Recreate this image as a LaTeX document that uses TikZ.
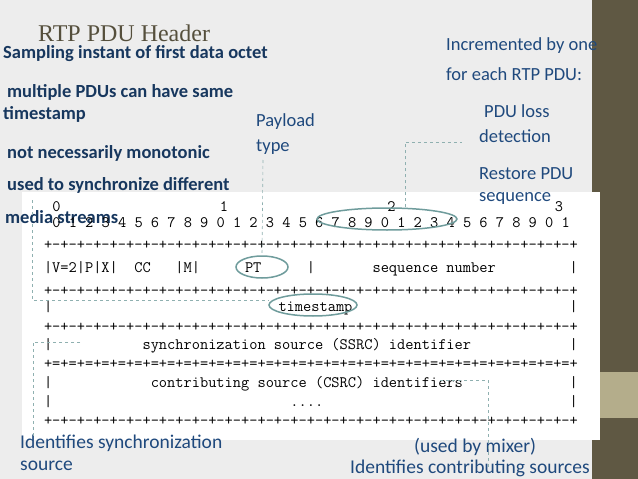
\documentclass[tikz,border=0pt]{standalone}
\usepackage{fontspec}
\setmainfont{Carlito}
\newfontfamily\titlefont{Liberation Serif}
\usetikzlibrary{shapes.geometric}
\definecolor{bgc}{HTML}{EDEDED}
\definecolor{strip}{HTML}{5F5843}
\definecolor{stripl}{HTML}{B4AD8B}
\definecolor{navy}{HTML}{17375E}
\definecolor{bluet}{HTML}{1F497D}
\definecolor{ell}{HTML}{6F9C9C}
\definecolor{dsh}{HTML}{8FB0B0}
\begin{document}
\begin{tikzpicture}[x=1pt,y=-1pt,
  bl/.style={anchor=west,inner sep=0pt,text=navy,font=\fontsize{18.5}{21}\selectfont\bfseries},
  rt/.style={anchor=west,inner sep=0pt,text=bluet,font=\fontsize{18.5}{20}\selectfont},
  rb/.style={anchor=west,inner sep=0pt,text=bluet,font=\fontsize{19.5}{20}\selectfont},
  asc/.style={anchor=base west,inner sep=0pt,font=\fontsize{15.95}{16}\selectfont\ttfamily},
  ov/.style={draw=ell,line width=1.5pt,ellipse,inner sep=0pt},
  dl/.style={draw=dsh,dashed,line width=0.6pt}]
\useasboundingbox (0,0) rectangle (638,479);
\fill[bgc] (0,0) rectangle (638,479);
\fill[strip] (592,0) rectangle (638,479);
\fill[stripl] (592,372) rectangle (638,418);
\fill[white] (22,192) rectangle (600,440);
% title and texts
\node[anchor=west,inner sep=0pt,text=strip!90!black,font=\titlefont\fontsize{24}{26}\selectfont] (title) at (38,33) {RTP PDU Header};
\node[bl] (t1) at (3,54) {Sampling instant of first data octet};
\node[bl] (t2) at (7,92) {multiple PDUs can have same};
\node[bl] (t3) at (3,114) {timestamp};
\node[bl] (t4) at (7,153) {not necessarily monotonic};
\node[bl] (t5) at (7,185) {used to synchronize different};
\node[bl] (t6) at (5,217) {media streams};
\node[rt] (pl) at (256,122) {Payload};
\node[rt] (ty) at (256,147) {type};
\node[rt] (i1) at (446,46) {Incremented by one};
\node[rt] (i2) at (446,74) {for each RTP PDU:};
\node[rt] (p1) at (484,111) {PDU loss};
\node[rt] (p2) at (479,136) {detection};
\node[rt] (r1) at (479,174) {Restore PDU};
\node[rt] (r2) at (479,198) {sequence};
\node[rb] (b1) at (20,443) {Identifies synchronization};
\node[rb] (b2) at (20,466) {source};
\node[rb] (b3) at (414,447) {(used by mixer)};
\node[rb] (b4) at (350,468) {Identifies contributing sources};
% ascii header, char i left edge at 43.8+8.375 i
\def\cx#1{43.8+8.375*#1}
\node[asc] (d0) at ({\cx{1}},211) {0};
\node[asc] (d1) at ({\cx{21}},211) {1};
\node[asc] (d2) at ({\cx{41}},211) {2};
\node[asc] (d3) at ({\cx{61}},211) {3};
\node[asc] (bits) at ({\cx{1}},227) {0~1~2~3~4~5~6~7~8~9~0~1~2~3~4~5~6~7~8~9~0~1~2~3~4~5~6~7~8~9~0~1};
\node[asc] (r0) at ({\cx{0}},249) {+-+-+-+-+-+-+-+-+-+-+-+-+-+-+-+-+-+-+-+-+-+-+-+-+-+-+-+-+-+-+-+-+};
\node[asc] (row1) at ({\cx{0}},272) {|V=2|P|X|~~CC~~~|M|~~~~~~~~~~~~~|~~~~~~~sequence~number~~~~~~~~~|};
\node[asc] (pt) at ({\cx{24}},272) {PT};
\node[asc] (r1l) at ({\cx{0}},295) {+-+-+-+-+-+-+-+-+-+-+-+-+-+-+-+-+-+-+-+-+-+-+-+-+-+-+-+-+-+-+-+-+};
\node[asc] (row2) at ({\cx{0}},311) {|~~~~~~~~~~~~~~~~~~~~~~~~~~~~~~~~~~~~~~~~~~~~~~~~~~~~~~~~~~~~~~~|};
\node[asc] (ts) at ({\cx{28}},311) {timestamp};
\node[asc] (r2l) at ({\cx{0}},331) {+-+-+-+-+-+-+-+-+-+-+-+-+-+-+-+-+-+-+-+-+-+-+-+-+-+-+-+-+-+-+-+-+};
\node[asc] (row3) at ({\cx{0}},349) {|~~~~~~~~~~~synchronization~source~(SSRC)~identifier~~~~~~~~~~~~|};
\node[asc] (r3l) at ({\cx{0}},368) {+=+=+=+=+=+=+=+=+=+=+=+=+=+=+=+=+=+=+=+=+=+=+=+=+=+=+=+=+=+=+=+=+};
\node[asc] (row4) at ({\cx{0}},387) {|~~~~~~~~~~~~contributing~source~(CSRC)~identifiers~~~~~~~~~~~~~|};
\node[asc] (row5) at ({\cx{0}},406) {|~~~~~~~~~~~~~~~~~~~~~~~~~~~~~....~~~~~~~~~~~~~~~~~~~~~~~~~~~~~~|};
\node[asc] (r4l) at ({\cx{0}},425) {+-+-+-+-+-+-+-+-+-+-+-+-+-+-+-+-+-+-+-+-+-+-+-+-+-+-+-+-+-+-+-+-+};
% ellipses
\node[ov,minimum width=140pt,minimum height=22pt] (eseq) at (387,219) {};
\node[ov,minimum width=52pt,minimum height=22pt] (ept) at (262,267) {};
\node[ov,minimum width=88pt,minimum height=22pt] (ets) at (313,305) {};
% dashed leaders
\coordinate (a1) at (263,160);
\draw[dl] (a1) -- (ept.north);
\coordinate (s1) at (405,142);
\coordinate (s2) at (462,142);
\draw[dl] (eseq.north -| s1) -- (s1) -- (s2);
\coordinate (l1) at (32,200);
\coordinate (l2) at (32,300);
\draw[dl] (l1) -- (l2) -- (ets.west |- l2);
\coordinate (c1) at (80,342);
\coordinate (c2) at (33,342);
\coordinate (c3) at (33,438);
\draw[dl] (c1) -- (c2) -- (c3);
\coordinate (m1) at (440,380);
\coordinate (m2) at (488,380);
\coordinate (m3) at (488,468);
\draw[dl] (m1) -- (m2) -- (m3);
\end{tikzpicture}
\end{document}
